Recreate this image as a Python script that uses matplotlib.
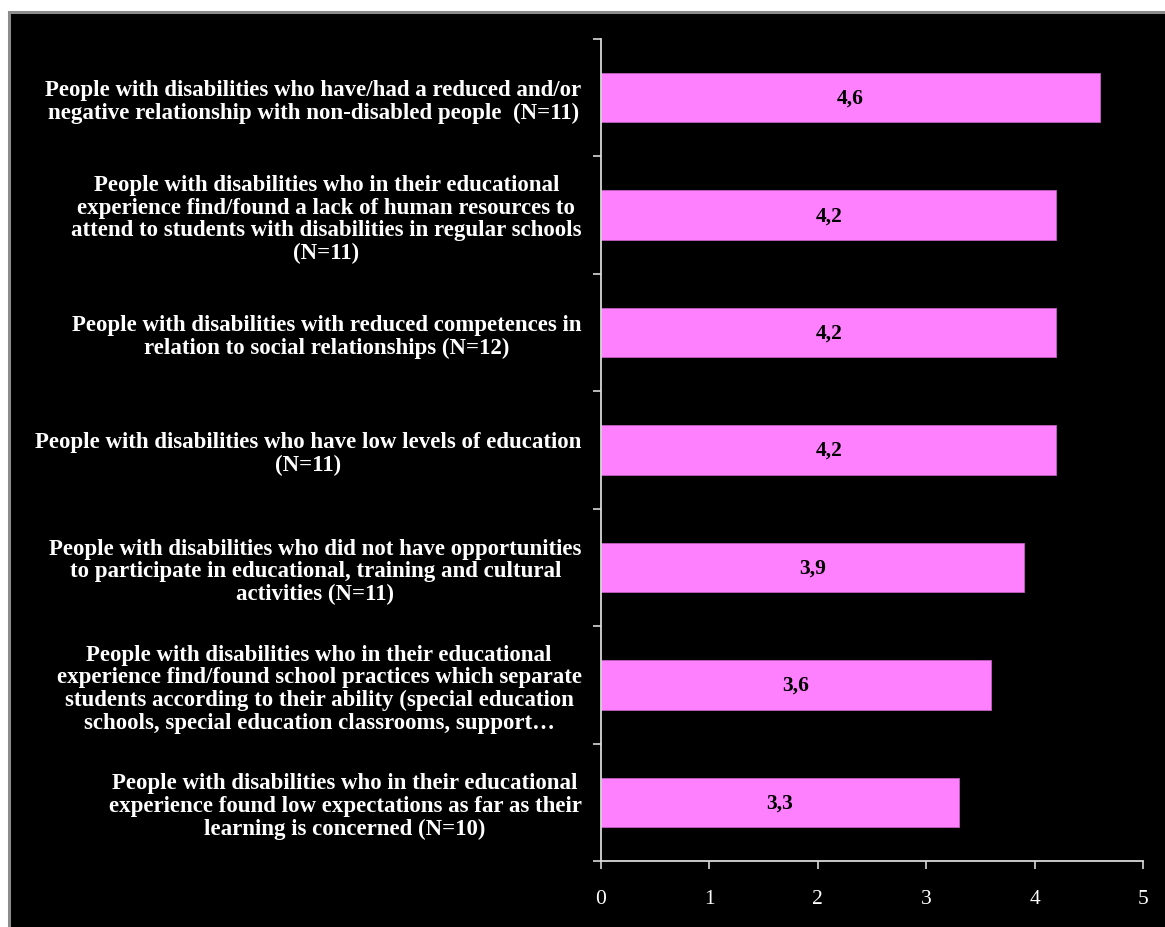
import matplotlib.pyplot as plt
from matplotlib.patches import Rectangle

categories = [
    "People with disabilities who have/had a reduced and/or\nnegative relationship with non-disabled people  (N=11)",
    "People with disabilities who in their educational\nexperience find/found a lack of human resources to\nattend to students with disabilities in regular schools\n(N=11)",
    "People with disabilities with reduced competences in\nrelation to social relationships (N=12)",
    "People with disabilities who have low levels of education\n(N=11)",
    "People with disabilities who did not have opportunities\nto participate in educational, training and cultural\nactivities (N=11)",
    "People with disabilities who in their educational\nexperience find/found school practices which separate\nstudents according to their ability (special education\nschools, special education classrooms, support\u2026",
    "People with disabilities who in their educational\nexperience found low expectations as far as their\nlearning is concerned (N=10)",
]
values = [4.6, 4.2, 4.2, 4.2, 3.9, 3.6, 3.3]
value_labels = ["4,6", "4,2", "4,2", "4,2", "3,9", "3,6", "3,3"]
xticks = [0, 1, 2, 3, 4, 5]

plt.rcParams['font.family'] = ['Liberation Serif', 'DejaVu Serif']

fig = plt.figure(figsize=(11.65, 9.28), dpi=100)
fig.patch.set_facecolor('white')

# black slide panel with a thin grey frame
fig.patches.append(Rectangle((9 / 1165, -0.05), 1.05, (928 - 13) / 928 + 0.05,
                             transform=fig.transFigure, facecolor='black',
                             edgecolor='#8c8c8c', linewidth=2.2, zorder=-5))

ax = fig.add_axes([601 / 1165, (928 - 862) / 928, (1143 - 601) / 1165, (862 - 40) / 928])
ax.set_facecolor('none')

n = len(categories)
pos = list(range(n))
ax.barh(pos, values, height=0.42, color='#ff80ff', edgecolor='#c060c0', linewidth=0.6, zorder=2)
for p, v, lab in zip(pos, values, value_labels):
    ax.text(v / 2, p, lab, ha='center', va='center', color='black',
            fontsize=15.5, fontweight='bold', zorder=3)

ax.set_xlim(0, 5)
ax.set_ylim(n - 0.5, -0.5)
ax.set_xticks(xticks)
ax.set_xticklabels([str(t) for t in xticks], color='white', fontsize=15.5)

# labels sit at category centres, ticks on the category boundaries
ax.set_yticks(pos)
ax.set_yticklabels(categories, color='white', fontsize=16.5, fontweight='bold',
                   multialignment='center', linespacing=1.1)
ax.tick_params(axis='y', which='major', length=0, pad=14)
ax.set_yticks([p - 0.5 for p in range(n + 1)], minor=True)
ax.tick_params(axis='y', which='minor', length=6, width=1.2, color='#d9d9d9')
ax.tick_params(axis='x', length=6, width=1.2, color='#d9d9d9', pad=14)

for side in ['top', 'right']:
    ax.spines[side].set_visible(False)
for side in ['left', 'bottom']:
    ax.spines[side].set_color('#d9d9d9')
    ax.spines[side].set_linewidth(1.3)

fig.savefig('out.png', dpi=100, facecolor=fig.get_facecolor())
